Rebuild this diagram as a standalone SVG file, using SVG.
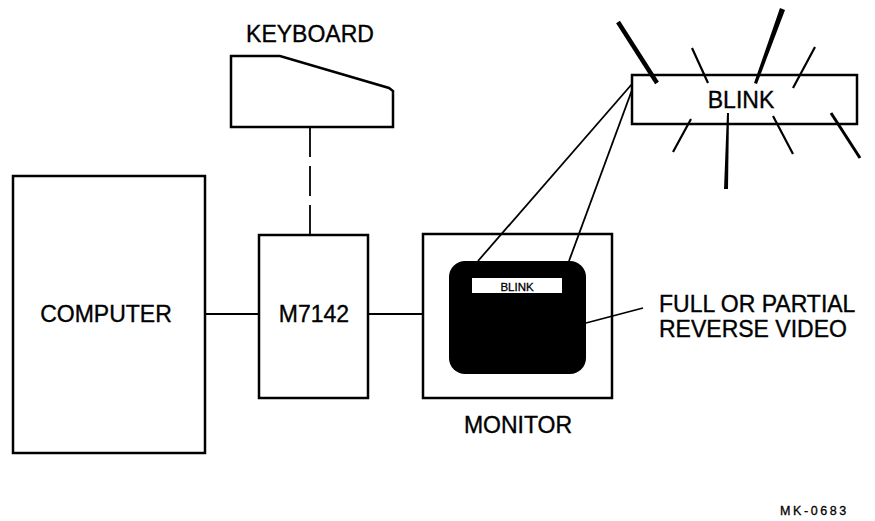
<svg xmlns="http://www.w3.org/2000/svg" width="875" height="521" viewBox="0 0 875 521">
<style>
.box{fill:#fff;stroke:#000;stroke-width:2.5}
.conn{stroke:#000;stroke-width:1.8;fill:none}
.lbl{font-family:"Liberation Sans",Arial,sans-serif;font-size:23px;fill:#000;stroke:#000;stroke-width:0.35}
.ray{stroke:#000;stroke-width:2.2;stroke-linecap:butt}
.ray-thick{stroke:#000;stroke-width:4.5;stroke-linecap:butt}
</style>
<rect width="875" height="521" fill="#fff"/>
<g id="computer">
<rect class="box" x="13" y="176" width="192" height="277"/>
<text class="lbl" x="106" y="322" text-anchor="middle">COMPUTER</text>
</g>
<g id="m7142">
<rect class="box" x="259" y="235" width="109" height="163"/>
<text class="lbl" x="314" y="322" text-anchor="middle">M7142</text>
</g>
<g id="keyboard">
<text class="lbl" x="310" y="42" text-anchor="middle">KEYBOARD</text>
<path class="box" d="M231,56 L280,56 L389,88 L393,91 L393,127 L231,127 Z"/>
</g>
<g id="monitor">
<rect class="box" x="423" y="234" width="189" height="164"/>
<rect x="449" y="261" width="137" height="113" rx="16" ry="16" fill="#000"/>
<rect x="472" y="278" width="90" height="15" fill="#fff"/>
<text x="517" y="291" text-anchor="middle" font-family="'Liberation Sans',Arial,sans-serif" font-size="11.5" fill="#000" stroke="#000" stroke-width="0.3">BLINK</text>
<text class="lbl" x="518" y="433" text-anchor="middle">MONITOR</text>
</g>
<g id="blink">
<rect class="box" x="632" y="75" width="225" height="49"/>
<text class="lbl" x="741" y="108" text-anchor="middle">BLINK</text>
<line class="ray-thick" x1="618" y1="22" x2="657" y2="83"/>
<line class="ray" x1="692" y1="48" x2="708" y2="83"/>
<polygon points="780,8 785,10 757,84 754,83" fill="#000"/>
<line class="ray" x1="815" y1="47" x2="793" y2="88"/>
<line class="ray" x1="691" y1="119" x2="673" y2="152"/>
<polygon points="727,113 729,113 728,189 724,189" fill="#000"/>
<line class="ray" x1="773" y1="116" x2="793" y2="154"/>
<line class="ray-thick" x1="831" y1="113" x2="860" y2="158" style="stroke-width:3"/>
</g>
<g id="reverse-video-label">
<text class="lbl" x="659" y="312">FULL OR PARTIAL</text>
<text class="lbl" x="659" y="337">REVERSE VIDEO</text>
</g>
<g id="connectors">
<line class="conn" x1="205" y1="314" x2="259" y2="314"/>
<line class="conn" x1="368" y1="314" x2="423" y2="314"/>
<line class="conn" x1="310" y1="127" x2="310" y2="235" stroke-dasharray="30,9"/>
<line class="conn" x1="478" y1="261" x2="632" y2="84"/>
<line class="conn" x1="569" y1="261" x2="632" y2="90"/>
<line class="conn" x1="586" y1="323" x2="643" y2="308"/>
</g>
<text x="780" y="515" font-family="'Liberation Sans',Arial,sans-serif" font-size="12.5" letter-spacing="2.6" fill="#000" stroke="#000" stroke-width="0.3">MK-0683</text>
</svg>
